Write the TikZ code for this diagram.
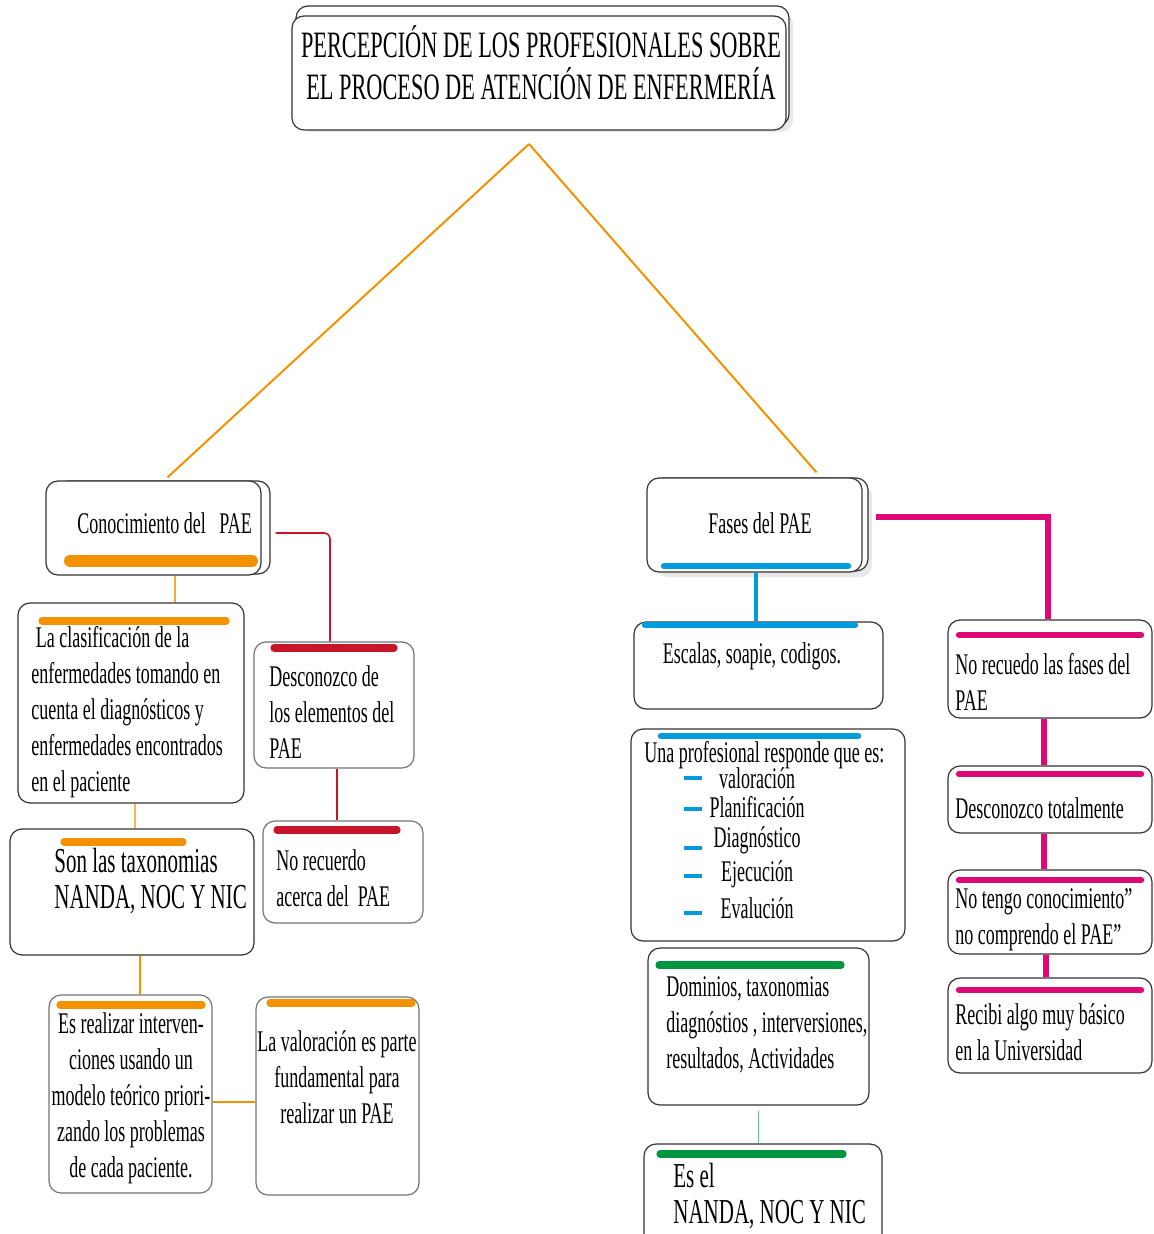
\documentclass[tikz,border=0pt]{standalone}
\usepackage{fontspec}
\setmainfont{Liberation Serif}[FakeStretch=0.6]
\usetikzlibrary{positioning,fit,shadows}

\definecolor{paeorange}{RGB}{243,146,0}
\definecolor{paered}{RGB}{200,20,40}
\definecolor{paeblue}{RGB}{0,155,220}
\definecolor{paepink}{RGB}{222,8,118}
\definecolor{paegreen}{RGB}{0,150,64}

\begin{document}
\begin{tikzpicture}[
    x=0.5pt, y=-0.5pt,
    % define styles
    card/.style={
        draw=black!80,
        fill=white,
        rounded corners=6pt,
        inner sep=0pt,
        line width=0.6pt
    },
    shade/.style={
        drop shadow={opacity=0.18, shadow xshift=2pt, shadow yshift=-3pt}
    },
    txt/.style={
        inner sep=0pt,
        align=left,
        font=\fontsize{15}{18}\selectfont
    },
    bigtxt/.style={
        txt,
        font=\fontsize{17.5}{18}\selectfont
    },
    bar/.style={
        line width=3.6pt,
        line cap=round
    },
    link/.style={
        line width=1pt
    }
]
\useasboundingbox (0,0) rectangle (1153,1234);

% title box (two layers)
\node[card, shade, fit={(296,6) (789,126)}] (titleback) {};
\node[card, fit={(292,16) (786,130)}] (title) {};
\node[txt, align=center, font=\fontsize{18.6}{21}\selectfont] (titletxt) at (541,63)
    {PERCEPCIÓN DE LOS PROFESIONALES SOBRE\\EL PROCESO DE ATENCIÓN DE ENFERMERÍA};
\coordinate (apex) at (529,144);

%%% left branch
\node[card, fit={(56,481) (270,574)}] (conocback) {};
\node[card, fit={(46,481) (261,575)}] (conoc) {};
\node[txt, anchor=west] (conoctxt) at (77,523) {Conocimiento del\ \ \ PAE};
\draw[bar, paeorange, line width=6pt] (70,561) -- (252,561);

\node[card, fit={(18,603) (244,803)}] (clasif) {};
\draw[bar, paeorange] (42,621) -- (226,621);
\node[txt, anchor=west] (clasiftxt) at (31,712)
    {\ La clasificación de la\\enfermedades tomando en\\cuenta el diagnósticos y\\enfermedades encontrados\\en el paciente};

\node[card, draw=black!55, fit={(254,642) (414,768)}] (desc) {};
\draw[bar, paered] (274,648) -- (394,648);
\node[txt, anchor=west] (desctxt) at (269,712) {Desconozco de\\los elementos del\\PAE};

\node[card, fit={(10,829) (254,955)}] (sonlas) {};
\draw[bar, paeorange] (64,842) -- (183,842);
\node[bigtxt, anchor=west] (sonlastxt) at (54,881) {Son las taxonomias\\NANDA, NOC Y NIC};

\node[card, draw=black!55, fit={(263,821) (423,923)}] (norec) {};
\draw[bar, paered] (277,830) -- (397,830);
\node[txt, anchor=west] (norectxt) at (276,878) {No recuerdo\\acerca del\ \ PAE};

\node[card, draw=black!55, fit={(49,995) (212,1193)}] (esreal) {};
\draw[bar, paeorange] (60,1005) -- (202,1005);
\node[txt, align=center] (esrealtxt) at (131,1098)
    {Es realizar interven-\\ciones usando un\\modelo teórico priori-\\zando los problemas\\de cada paciente.};

\node[card, draw=black!55, fit={(256,997) (419,1195)}] (valor) {};
\draw[bar, paeorange] (270,1003) -- (412,1003);
\node[txt, align=center] (valortxt) at (337,1077)
    {La valoración es parte\\fundamental para\\realizar un PAE};

% left connectors
\draw[link, paeorange] (apex) -- ([xshift=7pt,yshift=1.5pt]conoc.north);
\draw[link, paered, line width=0.8pt, rounded corners=3pt]
    ([xshift=7pt,yshift=-2.5pt]conoc.east) -| ([xshift=-2pt]desc.north);
\draw[link, paered, line width=0.8pt] ([xshift=1.5pt]desc.south) -- ([xshift=1.5pt]desc.south |- norec.north);
\draw[link, paeorange!80, line width=0.7pt] ([xshift=10.75pt]conoc.south) -- ([xshift=10.75pt]conoc.south |- clasif.north);
\draw[link, paeorange!70, line width=0.7pt] ([xshift=2pt]clasif.south) -- ([xshift=2pt]clasif.south |- sonlas.north);
\draw[link, paeorange, line width=0.8pt] ([xshift=4pt]sonlas.south) -- ([xshift=4pt]sonlas.south |- esreal.north);
\draw[link, paeorange] ([yshift=-4pt]esreal.east) -- ([yshift=-4pt]esreal.east -| valor.west);

%%% right branch
\node[card, shade, fit={(652,478) (868,571)}] (fasesback) {};
\node[card, fit={(647,478) (862,572)}] (fases) {};
\node[txt] (fasestxt) at (760,523) {Fases del PAE};
\draw[bar, paeblue, line width=3.2pt] (664,566) -- (848,566);

\node[card, fit={(634,622) (883,709)}] (escalas) {};
\draw[bar, paeblue, line width=3.2pt] (645,625) -- (855,625);
\node[txt] (escalastxt) at (752,656) {Escalas, soapie, codigos.};

\node[card, fit={(631,729) (905,941)}] (unaprof) {};
\draw[bar, paeblue, line width=3.2pt] (661,736) -- (858,736);
\node[txt, anchor=west] (unaproftxt) at (644,755) {Una profesional responde que es:};
% phases listed in the answer
\foreach \fase/\ty/\dy [count=\i] in {valoración/778/778, Planificación/807/809,
    Diagnóstico/840/848, Ejecución/874/876, Evalución/908/913} {
    \node[txt] (fase-\i) at (757,\ty) {\fase};
    \draw[paeblue, line width=1.6pt] (684,\dy) -- (702,\dy);
}

\node[card, fit={(648,948) (869,1105)}] (dominios) {};
\draw[bar, paegreen] (659,965) -- (841,965);
\node[txt, anchor=west] (dominiostxt) at (666,1025)
    {Dominios, taxonomias\\diagnóstios , interversiones,\\resultados, Actividades};

\node[card, fit={(644,1144) (882,1250)}] (esel) {};
\draw[bar, paegreen] (660,1154) -- (843,1154);
\node[bigtxt, anchor=west] (eseltxt) at (673,1196) {Es el\\NANDA, NOC Y NIC};

\node[card, fit={(948,620) (1152,718)}] (norecf) {};
\draw[bar, paepink, line width=3.2pt] (959,635) -- (1141,635);
\node[txt, anchor=west] (norecftxt) at (955,682) {No recuedo las fases del\\PAE};

\node[card, fit={(948,766) (1152,833)}] (desctot) {};
\draw[bar, paepink, line width=3.2pt] (959,774) -- (1141,774);
\node[txt, anchor=west] (desctottxt) at (955,808) {Desconozco totalmente};

\node[card, fit={(948,870) (1152,954)}] (notengo) {};
\draw[bar, paepink, line width=3.2pt] (959,880) -- (1141,880);
\node[txt, anchor=west] (notengotxt) at (955,920) {No tengo conocimiento”\\no comprendo el PAE”};

\node[card, fit={(948,978) (1152,1073)}] (recibi) {};
\draw[bar, paepink, line width=3.2pt] (959,990) -- (1141,990);
\node[txt, anchor=west] (recibitxt) at (955,1032) {Recibi algo muy básico\\en la Universidad};

% right connectors
\draw[link, paeorange] (apex) -- ([xshift=31pt,yshift=2.5pt]fases.north);
\draw[paeblue, line width=1.6pt] ([xshift=0.75pt]fases.south) -- ([xshift=0.75pt]fases.south |- escalas.north);
\draw[paepink, line width=3pt] ([xshift=6.5pt,yshift=4pt]fases.east) -| ([xshift=-1pt]norecf.north);
\draw[paepink, line width=2.6pt] ([xshift=-3pt]norecf.south) -- ([xshift=-3pt]norecf.south |- desctot.north);
\draw[paepink, line width=2.6pt] ([xshift=-3pt]desctot.south) -- ([xshift=-3pt]desctot.south |- notengo.north);
\draw[paepink, line width=2.6pt] ([xshift=-2pt]notengo.south) -- ([xshift=-2pt]notengo.south |- recibi.north);
\draw[paegreen!60, line width=0.5pt] ([yshift=-2.5pt]dominios.south) -- (dominios.south |- esel.north);
\end{tikzpicture}
\end{document}
